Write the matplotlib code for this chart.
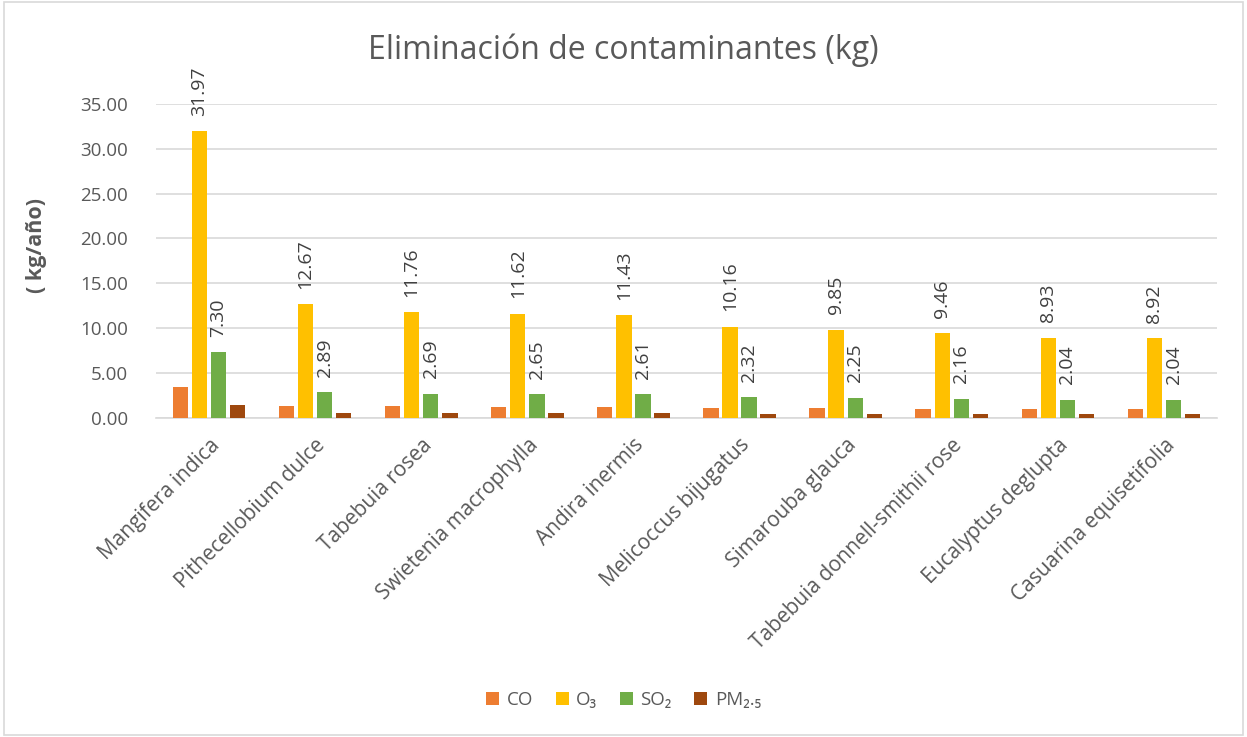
import numpy as np
import matplotlib
matplotlib.use("Agg")
import matplotlib.pyplot as plt
from matplotlib.patches import Rectangle

plt.rcParams['font.family'] = ['Open Sans', 'DejaVu Sans']

species = ["Mangifera indica", "Pithecellobium dulce", "Tabebuia rosea",
           "Swietenia macrophylla", "Andira inermis", "Melicoccus bijugatus",
           "Simarouba glauca", "Tabebuia donnell-smithii rose",
           "Eucalyptus deglupta", "Casuarina equisetifolia"]
co = [3.45, 1.37, 1.27, 1.25, 1.23, 1.10, 1.06, 1.02, 0.96, 0.96]
o3 = [31.97, 12.67, 11.76, 11.62, 11.43, 10.16, 9.85, 9.46, 8.93, 8.92]
so2 = [7.30, 2.89, 2.69, 2.65, 2.61, 2.32, 2.25, 2.16, 2.04, 2.04]
pm25 = [1.38, 0.55, 0.51, 0.50, 0.49, 0.44, 0.43, 0.41, 0.39, 0.39]

series_names = ["CO", "O₃", "SO₂", "PM₂.₅"]
colors = ["#ED7D31", "#FFC000", "#70AD47", "#9E480E"]
labelled = [False, True, True, False]

txt = "#595959"

fig = plt.figure(figsize=(12.47, 7.37), dpi=100)
fig.patches.append(Rectangle((0.003, 0.003), 0.994, 0.994, transform=fig.transFigure,
                             fill=False, edgecolor="#D9D9D9", linewidth=1.2))
ax = fig.add_axes([0.125, 0.433, 0.851, 0.426])

x = np.arange(len(species))
step = 0.18
width = 0.145
for i, (vals, name, c) in enumerate(zip([co, o3, so2, pm25], series_names, colors)):
    xs = x + (i - 1.5) * step
    ax.bar(xs, vals, width=width, color=c, label=name, zorder=3)
    if labelled[i]:
        for xi, v in zip(xs, vals):
            ax.annotate("%.2f" % v, (xi, v), xytext=(0, 11), textcoords="offset points",
                        rotation=90, ha="center", va="bottom", fontsize=14,
                        color="#404040")

ax.set_xlim(-0.5, len(species) - 0.5)
ax.set_ylim(0, 35)
ax.set_yticks(np.arange(0, 35.1, 5))
ax.set_yticklabels(["%.2f" % t for t in np.arange(0, 35.1, 5)])
ax.grid(axis="y", color="#D9D9D9", linewidth=1.2, zorder=0)
for s in ["top", "right", "left"]:
    ax.spines[s].set_visible(False)
ax.spines["bottom"].set_color("#D9D9D9")
ax.spines["bottom"].set_linewidth(1.2)
ax.tick_params(axis="y", length=0, labelsize=13.5, labelcolor=txt, pad=20)
ax.tick_params(axis="x", length=0, labelsize=15, labelcolor=txt, pad=12)
ax.set_xticks(x)
ax.set_xticklabels(species, rotation=45, ha="right", rotation_mode="anchor")
ax.set_ylabel("( kg/año)", fontsize=15.5, fontweight="bold", color=txt)
ax.yaxis.set_label_coords(-0.103, 0.55)

fig.text(0.5, 0.932, "Eliminación de contaminantes (kg)", ha="center", va="center",
         fontsize=23, color=txt)

fig.legend(loc="center", bbox_to_anchor=(0.5, 0.05), ncol=4, frameon=False,
           fontsize=13.5, labelcolor=txt, handlelength=0.7, handleheight=0.7,
           handletextpad=0.4, columnspacing=1.2)

fig.savefig("out.png", dpi=100)
